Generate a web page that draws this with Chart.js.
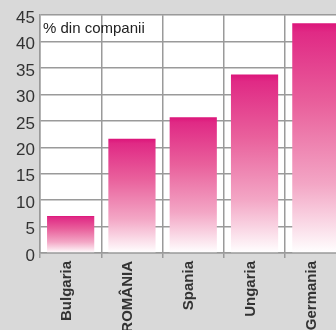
<!DOCTYPE html>
<html>
<head>
<meta charset="utf-8">
<script src="https://cdn.jsdelivr.net/npm/chart.js@4"></script>
<style>
  html, body { margin: 0; padding: 0; background: #d9d9d9; overflow: hidden; }
  #wrap { position: absolute; left: 0; top: 0; width: 352px; height: 330px; }
</style>
</head>
<body>
<div id="wrap"><canvas id="firmeChart" width="352" height="330"></canvas></div>
<script>
// ===== COMPANII CHART =====
const tari = ['Bulgaria', 'ROMÂNIA', 'Spania', 'Ungaria', 'Germania'];
const procente = [7, 21.6, 25.7, 33.8, 43.5];
const yTicks = [0, 5, 10, 15, 20, 25, 30, 35, 40, 45];
const unitate = '% din companii';

const gridColor = '#9a9a9a';
const textColor = '#333333';

// white plot area behind the bars
const plotBg = {
  id: 'plotBg',
  beforeDraw(chart) {
    const { ctx, chartArea: a } = chart;
    ctx.save();
    ctx.fillStyle = '#ffffff';
    ctx.fillRect(a.left, a.top, a.right - a.left, a.bottom - a.top);
    ctx.restore();
  }
};

// unit label in the top-left corner of the plot
const unitLabel = {
  id: 'unitLabel',
  afterDraw(chart) {
    const { ctx, chartArea: a } = chart;
    ctx.save();
    ctx.font = '15px "Liberation Sans", Arial, sans-serif';
    ctx.fillStyle = '#222222';
    ctx.textAlign = 'left';
    ctx.textBaseline = 'alphabetic';
    ctx.fillText(unitate, a.left + 3, a.top + 18);
    ctx.restore();
  }
};

// each bar fades from magenta at its top to white at the base
function barGradient(context) {
  const chart = context.chart;
  if (!chart.chartArea || context.type !== 'data') return '#e0207f';
  const y = chart.scales.y;
  const top = y.getPixelForValue(context.raw);
  const base = y.getPixelForValue(0);
  const g = chart.ctx.createLinearGradient(0, top, 0, base);
  g.addColorStop(0, '#dc157a');
  g.addColorStop(0.04, '#e02a85');
  g.addColorStop(0.35, '#e9609c');
  g.addColorStop(0.7, '#f3a6c5');
  g.addColorStop(0.95, '#fdf0f5');
  g.addColorStop(1, '#ffffff');
  return g;
}

new Chart(document.getElementById('firmeChart'), {
  type: 'bar',
  data: {
    labels: tari,
    datasets: [{
      data: procente,
      backgroundColor: barGradient,
      borderWidth: 0,
      categoryPercentage: 1,
      barPercentage: 0.77
    }]
  },
  options: {
    responsive: false,
    animation: false,
    layout: { padding: { top: 13, right: 5.5, left: 0, bottom: 0 } },
    plugins: { legend: { display: false }, tooltip: { enabled: false } },
    scales: {
      x: {
        z: 1,
        grid: { color: gridColor, lineWidth: 1.5, tickLength: 5, offset: true },
        border: { color: gridColor, width: 1.5 },
        ticks: {
          color: textColor,
          font: { family: '"Liberation Sans", Arial, sans-serif', size: 15, weight: 'bold' },
          minRotation: 90, maxRotation: 90,
          labelOffset: -4,
          padding: 3
        },
        afterFit(s) { s.height = 77; }
      },
      y: {
        z: 1,
        min: 0, max: 45,
        afterBuildTicks(s) { s.ticks = yTicks.map(v => ({ value: v })); },
        grid: { color: gridColor, lineWidth: 1.5, drawTicks: false },
        border: { color: gridColor, width: 1.5 },
        ticks: {
          color: textColor,
          font: { family: '"Liberation Sans", Arial, sans-serif', size: 17 },
          labelOffset: 3,
          padding: 5
        },
        afterFit(s) { s.width = 40; }
      }
    }
  },
  plugins: [plotBg, unitLabel]
});
</script>
</body>
</html>
